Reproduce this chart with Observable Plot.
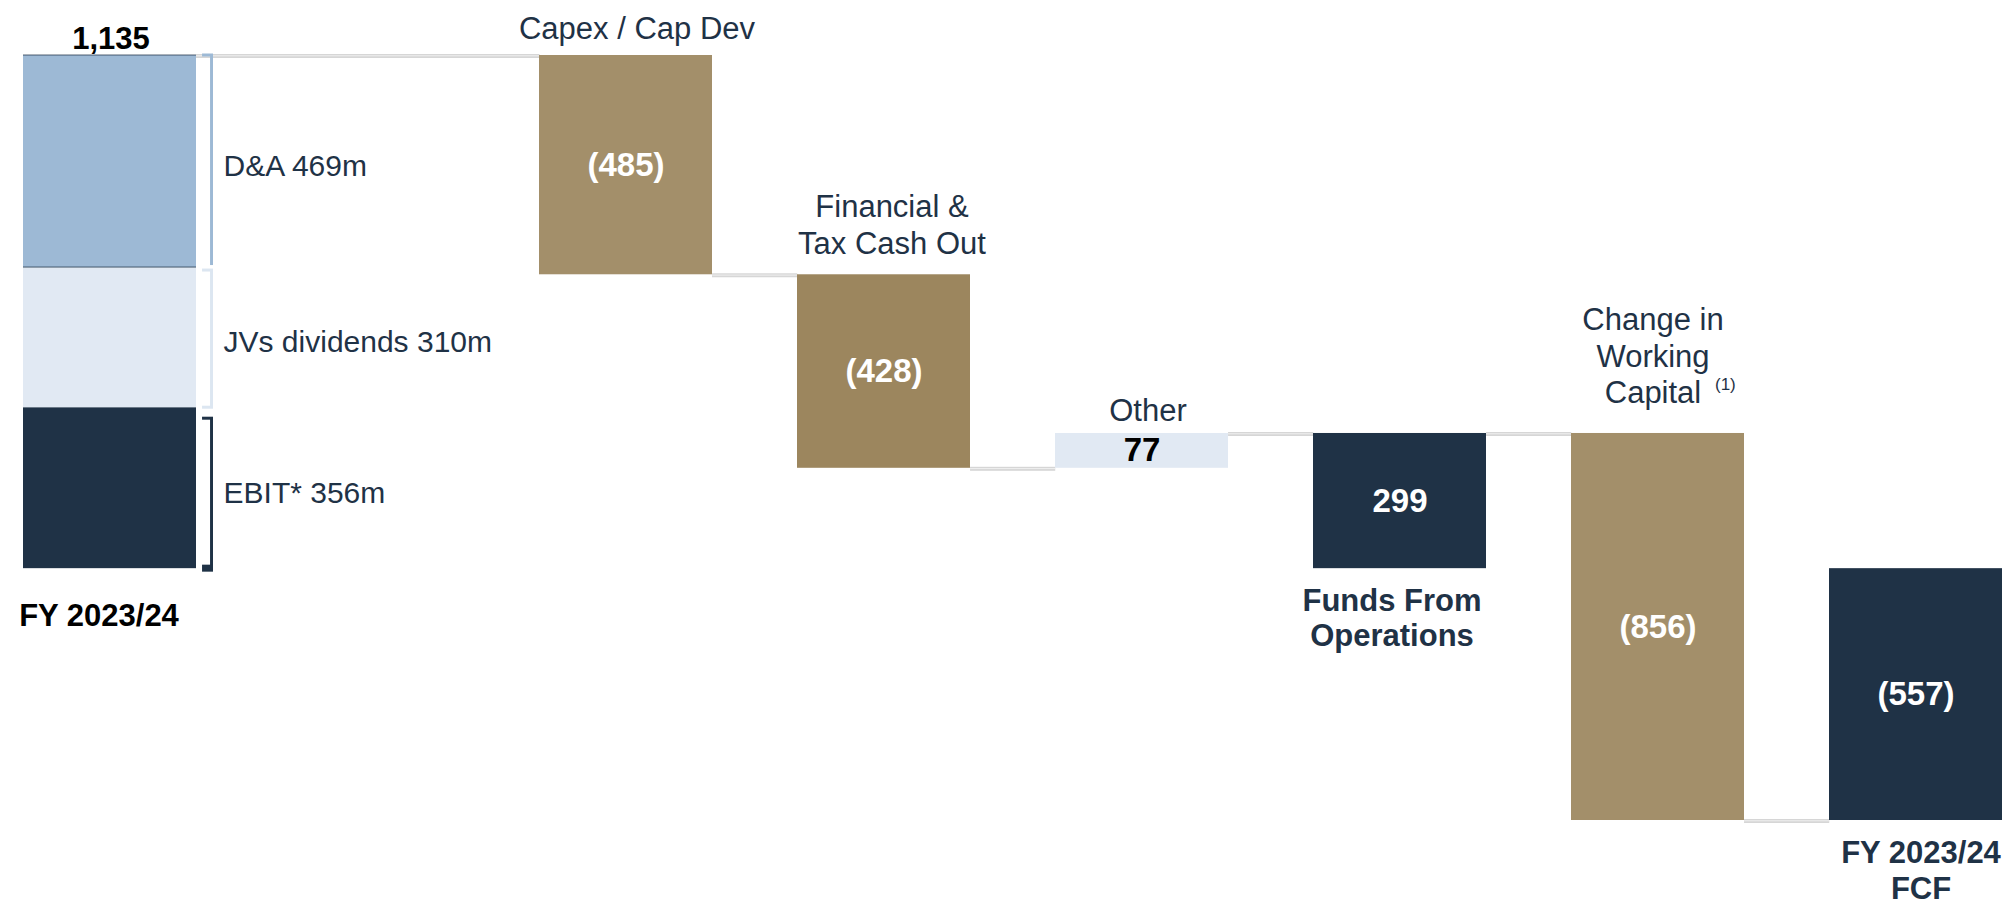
<!DOCTYPE html>
<html>
<head>
<meta charset="utf-8">
<script src="https://cdn.jsdelivr.net/npm/d3@7"></script>
<script src="https://cdn.jsdelivr.net/npm/@observablehq/plot@0.6"></script>
<style>
  html, body { margin: 0; padding: 0; background: #ffffff; }
  #chart svg { display: block; }
</style>
</head>
<body>
<div id="chart"></div>
<script>
// ---------------- data ----------------
const categories = ["FY 2023/24", "Capex / Cap Dev", "Financial & Tax Cash Out", "Other", "Funds From Operations", "Change in Working Capital", "FY 2023/24 FCF"];
const values = [1135, -485, -428, 77, 299, -856, -557];
const kinds = ["start", "delta", "delta", "delta", "subtotal", "delta", "total"];
const valueLabels = ["1,135", "(485)", "(428)", "77", "299", "(856)", "(557)"];
const titleLabels = ["", "Capex / Cap Dev", "Financial &\nTax Cash Out", "Other", "", "Change in\nWorking\nCapital", ""];
const footLabels = ["FY 2023/24", "", "", "", "Funds From\nOperations", "", "FY 2023/24\nFCF"];
const footnoteMark = "(1)";
const componentNames = ["EBIT* 356m", "JVs dividends 310m", "D&A 469m"];
const componentValues = [356, 310, 469];

// ---------------- styles / layout ----------------
const FONT = "'Liberation Sans', Arial, Helvetica, sans-serif";
const NAVY = "#1F3246";
const barColors = {
  "Capex / Cap Dev": "#A38F6A",
  "Financial & Tax Cash Out": "#9C865E",
  "Other": "#E1E9F3",
  "Funds From Operations": "#1F3246",
  "Change in Working Capital": "#A38F6A",
  "FY 2023/24 FCF": "#1F3246"
};
const componentColors = {"EBIT* 356m": "#1F3246", "JVs dividends 310m": "#E1E9F3", "D&A 469m": "#9DB9D5"};
const bracketColors = {"EBIT* 356m": "#1F3246", "JVs dividends 310m": "#DCE6F1", "D&A 469m": "#9DB9D5"};
const bracketInsets = {"EBIT* 356m": [11, -2], "JVs dividends 310m": [3, 0], "D&A 469m": [0, 2]};
const titleOffsets = {"Capex / Cap Dev": [11, -17], "Financial & Tax Cash Out": [8, -21], "Other": [6, -12], "Change in Working Capital": [-5, -30]};
const footOffsets = {"FY 2023/24": [-11, 57], "Funds From Operations": [-8, 77], "FY 2023/24 FCF": [5, 78]};

const W = 2009, H = 902;
const X0 = 22, X1 = 2003, PAD = 0.33;
const GAP = " ";
const slots = [categories[0], GAP, ...categories.slice(1)];
const band = d3.scaleBand().domain(slots).range([X0, X1]).paddingInner(PAD).paddingOuter(0).align(0.5);
const bw = band.bandwidth();
const slotX = (c) => band(c);

// ---------------- derived geometry (from values) ----------------
let run = 0;
const bars = categories.map((c, i) => {
  let y1, y2;
  if (kinds[i] === "delta") { y1 = run; y2 = run + values[i]; }
  else { y1 = 0; y2 = values[i]; }
  run = y2;
  return {cat: c, i, kind: kinds[i], y1, y2, top: Math.max(y1, y2), bottom: Math.min(y1, y2), end: y2,
          label: valueLabels[i], title: titleLabels[i], foot: footLabels[i]};
});
let acc = 0;
const comps = componentNames.map((n, k) => {
  const d = {name: n, cat: categories[0], y1: acc, y2: acc + componentValues[k]};
  acc += componentValues[k];
  d.mid = (d.y1 + d.y2) / 2;
  return d;
});
const yExtent = d3.extent(bars.flatMap(b => [b.y1, b.y2]));

// ---------------- marks ----------------
const marks = [];

// connectors (drawn first)
for (let i = 0; i < bars.length - 1; i++) {
  const a = bars[i], b = bars[i + 1];
  const gap = slotX(b.cat) - (slotX(a.cat) + bw);
  const base = {x: "cat", y1: "end", y2: "end", insetLeft: bw, insetRight: -gap};
  marks.push(Plot.barY([a], {...base, fill: "#D6D6D6", insetTop: -1, insetBottom: -3}));
  marks.push(Plot.barY([a], {...base, fill: "#EFEFEF", insetTop: 0.3, insetBottom: -1.3}));
}

// start bar components
marks.push(Plot.barY(comps, {x: "cat", y1: "y1", y2: "y2", fill: d => componentColors[d.name]}));
// thin dark edges on the start bar
marks.push(Plot.barY([comps[2], comps[1]], {x: "cat", y1: "y2", y2: "y2", fill: NAVY, fillOpacity: 0.75, insetTop: -0.5, insetBottom: -0.5}));

// other bars
marks.push(Plot.barY(bars.filter(b => b.kind !== "start"), {x: "cat", y1: "y1", y2: "y2", fill: d => barColors[d.cat]}));

// brackets next to the start bar
for (const c of comps) {
  const [it, ib] = bracketInsets[c.name];
  const col = bracketColors[c.name];
  marks.push(Plot.barY([c], {x: "cat", y1: "y1", y2: "y2", fill: col, insetLeft: bw + 14, insetRight: -17, insetTop: it, insetBottom: ib}));
  marks.push(Plot.barY([c], {x: "cat", y1: "y2", y2: "y2", fill: col, insetLeft: bw + 6, insetRight: -17, insetTop: it - 1.5, insetBottom: -it - 1.5}));
  marks.push(Plot.barY([c], {x: "cat", y1: "y1", y2: "y1", fill: col, insetLeft: bw + 6, insetRight: -17, insetTop: ib - 1.5, insetBottom: ib - 1.5}));
}
// bracket labels
marks.push(Plot.text(comps, {x: "cat", y: "mid", text: "name", textAnchor: "start", lineAnchor: "middle",
  dx: bw / 2 + 27, dy: 5, fontSize: 30, fill: NAVY, fontFamily: FONT}));

// value labels
const startBar = bars[0];
marks.push(Plot.text([startBar], {x: "cat", y: "top", text: "label", lineAnchor: "bottom", dx: 1, dy: -7,
  fontSize: 31, fontWeight: "bold", fill: "#000000", fontFamily: FONT}));
marks.push(Plot.text(bars.filter(b => b.kind !== "start"), {x: "cat", y: d => (d.y1 + d.y2) / 2, text: "label",
  lineAnchor: "middle", fontSize: 33, fontWeight: "bold",
  fill: d => d.cat === "Other" ? "#000000" : "#FFFFFF", fontFamily: FONT}));

// titles above bars
for (const b of bars.filter(b => b.title)) {
  const [dx, dy] = titleOffsets[b.cat];
  marks.push(Plot.text([b], {x: "cat", y: "top", text: "title", lineAnchor: "bottom", lineHeight: 1.19,
    dx, dy, fontSize: 31, fill: NAVY, fontFamily: FONT}));
}
// footnote marker on Change in Working Capital
const wc = bars.find(b => b.cat === "Change in Working Capital");
marks.push(Plot.text([wc], {x: "cat", y: "top", text: () => footnoteMark, textAnchor: "start", lineAnchor: "bottom",
  dx: 57, dy: -43, fontSize: 17, fill: NAVY, fontFamily: FONT}));

// labels below bars
for (const b of bars.filter(b => b.foot)) {
  const [dx, dy] = footOffsets[b.cat];
  marks.push(Plot.text([b], {x: "cat", y: "bottom", text: "foot", lineAnchor: "bottom", lineHeight: 1.13,
    dx, dy, fontSize: 31, fontWeight: "bold", fill: b.kind === "start" ? "#000000" : NAVY, fontFamily: FONT}));
}

const chart = Plot.plot({
  width: W,
  height: H,
  marginLeft: X0,
  marginRight: W - X1,
  marginTop: 55,
  marginBottom: H - 820,
  x: {type: "band", domain: slots, range: [X0, X1], paddingInner: PAD, paddingOuter: 0, align: 0.5, axis: null},
  y: {domain: yExtent, range: [820, 55], axis: null},
  color: {type: "identity"},
  style: {background: "#ffffff", fontFamily: FONT, overflow: "visible"},
  marks
});
document.getElementById("chart").append(chart);
</script>
</body>
</html>
